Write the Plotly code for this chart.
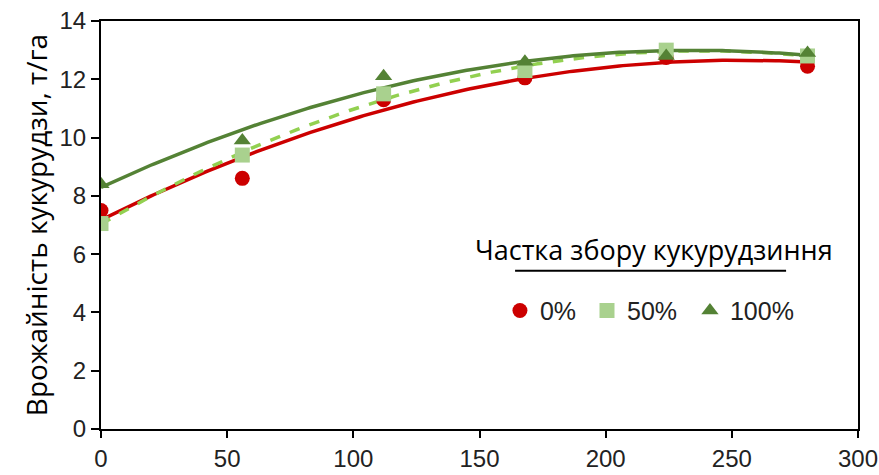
import numpy as np
import plotly.graph_objects as go

x_vals = [0, 56, 112, 168, 224, 280]
y_0 = [7.5, 8.6, 11.3, 12.05, 12.75, 12.45]
y_50 = [7.05, 9.4, 11.5, 12.3, 13.0, 12.8]
y_100 = [8.4, 9.9, 12.1, 12.6, 12.8, 12.9]
names = ["0%", "50%", "100%"]
x_ticks = [0, 50, 100, 150, 200, 250, 300]
y_ticks = [0, 2, 4, 6, 8, 10, 12, 14]

series = [
    (y_0, names[0], "#CC0000", "circle", "#CC0000", "solid", "legend"),
    (y_50, names[1], "#A9D18E", "square", "#92D050", "dash", "legend2"),
    (y_100, names[2], "#548235", "triangle-up", "#548235", "solid", "legend3"),
]

fig = go.Figure()
xf = np.linspace(0, 280, 200)
for ys, nm, mcol, sym, lcol, dash, lg in series:
    coef = np.polyfit(x_vals, ys, 2)
    fig.add_trace(go.Scatter(x=xf, y=np.polyval(coef, xf), mode="lines",
                             line=dict(color=lcol, width=3.5, dash=dash),
                             showlegend=False, hoverinfo="skip"))
for ys, nm, mcol, sym, lcol, dash, lg in series:
    fig.add_trace(go.Scatter(x=x_vals, y=ys, mode="markers", name=nm, legend=lg,
                             marker=dict(color=mcol, symbol=sym, size=15)))

tickfont = dict(family="Liberation Sans, Arial", size=24, color="#222222")
legfont = dict(family="Liberation Sans, Arial", size=25, color="#222222")


def leg(xpos):
    return dict(orientation="h", x=xpos, y=0.29, xanchor="left", yanchor="middle",
                font=legfont, itemwidth=30, bgcolor="rgba(0,0,0,0)")


fig.update_layout(
    width=879, height=475,
    margin=dict(l=101, r=21, t=21, b=46, autoexpand=False),
    plot_bgcolor="white", paper_bgcolor="white",
    font=dict(family="Liberation Sans, Arial", size=20, color="black"),
    xaxis=dict(range=[0, 300], tickvals=x_ticks, showgrid=False, zeroline=False,
               showline=True, linecolor="black", linewidth=2, mirror=True,
               ticks="outside", ticklen=7, tickwidth=1.5, tickcolor="black",
               tickfont=tickfont, automargin=False),
    yaxis=dict(range=[0, 14], tickvals=y_ticks, showgrid=False, zeroline=False,
               showline=True, linecolor="black", linewidth=2, mirror=True,
               ticks="outside", ticklen=8, tickwidth=1.5, tickcolor="black",
               tickfont=tickfont, automargin=False,
               title=dict(text="Врожайність кукурудзи, т/га",
                          font=dict(family="Open Sans", size=28), standoff=4)),
    legend=leg(0.527),
    legend2=leg(0.642),
    legend3=leg(0.778),
    showlegend=True,
)
fig.add_annotation(text="Частка збору кукурудзиння", xref="paper", yref="paper",
                   x=0.73, y=0.44, xanchor="center", yanchor="middle", showarrow=False,
                   font=dict(family="Open Sans", size=27, color="black"))
fig.add_shape(type="line", xref="paper", yref="paper", x0=0.547, x1=0.905,
              y0=0.388, y1=0.388, line=dict(color="black", width=2))
fig.write_html("out.html")
